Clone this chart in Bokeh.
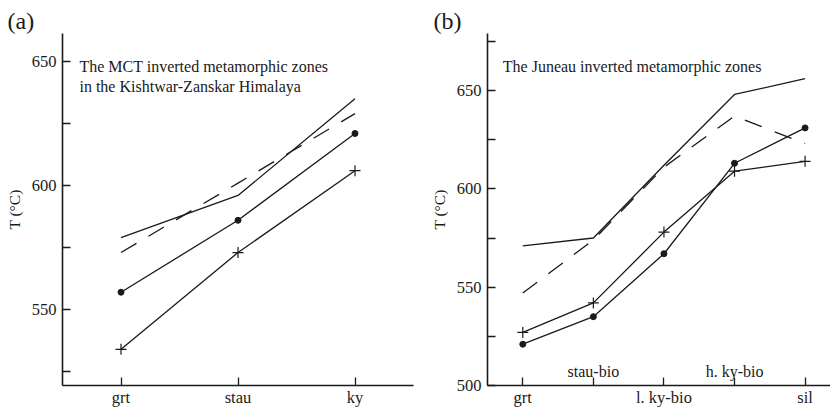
from bokeh.plotting import figure
from bokeh.layouts import row
from bokeh.models import FixedTicker, Label, Range1d, Title
from bokeh.core.properties import value
from bokeh.embed import file_html
from bokeh.resources import INLINE

# ---- data ----
zones_a = ["grt", "stau", "ky"]
a_solid = [579, 596, 635]
a_dashed = [573, 601, 629]
a_dot = [557, 586, 621]
a_plus = [534, 573, 606]

zones_b = ["grt", "stau-bio", "l. ky-bio", "h. ky-bio", "sil"]
b_solid = [571, 575, 612, 648, 656]
b_dashed = [547, 574, 611, 637, 623]
b_dot = [521, 535, 567, 613, 631]
b_plus = [527, 542, 578, 609, 614]

yticks_a = [525, 550, 575, 600, 625, 650]
ylabels_a = {525: "", 550: "550", 575: "", 600: "600", 625: "", 650: "650"}
yticks_b = [500, 525, 550, 575, 600, 625, 650, 675]
ylabels_b = {500: "500", 525: "", 550: "550", 575: "", 600: "600", 625: "", 650: "650", 675: ""}

FONT = "Liberation Serif"
INK = "#1a1a1a"


def style(p, xticks, xlabels, yticks, ylabels):
    p.background_fill_color = "white"
    p.border_fill_color = "white"
    p.outline_line_color = None
    p.xgrid.grid_line_color = None
    p.ygrid.grid_line_color = None
    for ax in (p.xaxis[0], p.yaxis[0]):
        ax.axis_line_color = INK
        ax.axis_line_width = 1.6
        ax.major_tick_line_color = INK
        ax.major_tick_line_width = 1.3
        ax.major_tick_out = 0
        ax.major_tick_in = 8
        ax.minor_tick_line_color = None
        ax.major_label_text_font = FONT
        ax.major_label_text_font_size = "16.5px"
        ax.major_label_text_color = INK
        ax.axis_label_text_font = FONT
        ax.axis_label_text_font_size = "15.5px"
        ax.axis_label_text_font_style = "normal"
        ax.axis_label_text_color = INK
    p.xaxis[0].ticker = FixedTicker(ticks=xticks)
    p.xaxis[0].major_label_overrides = xlabels
    p.xaxis[0].major_label_standoff = 2
    p.yaxis[0].ticker = FixedTicker(ticks=yticks)
    p.yaxis[0].major_label_overrides = ylabels
    p.yaxis[0].major_label_standoff = 6
    p.yaxis[0].axis_label = "T (°C)"
    p.yaxis[0].axis_label_standoff = 6


def draw(p, xs, solid, dashed, dot, plus):
    p.line(xs, solid, line_color=INK, line_width=1.3)
    p.line(xs, dashed, line_color=INK, line_width=1.3, line_dash="18 14")
    p.line(xs, dot, line_color=INK, line_width=1.3)
    p.scatter(xs, dot, marker="circle", size=6, fill_color=INK, line_color=INK)
    p.line(xs, plus, line_color=INK, line_width=1.3)
    p.scatter(xs, plus, marker="cross", size=11, fill_color=None, line_color=INK, line_width=1.2)


def panel_tag(p, text, offset):
    p.add_layout(Title(text=text, align="left", offset=offset, standoff=0,
                       text_font=FONT, text_font_size="24px", text_font_style="normal",
                       text_color=INK), "above")


# ---- panel (a) ----
xa = list(range(1, len(zones_a) + 1))
pa = figure(width=415, height=409, output_backend="svg", toolbar_location=None,
            x_range=Range1d(0.5, 3.5), y_range=Range1d(519.4, 661.3),
            min_border_left=62, min_border_right=2, min_border_top=33, min_border_bottom=24)
style(pa, xa, {x: z for x, z in zip(xa, zones_a)}, yticks_a, ylabels_a)
draw(pa, xa, a_solid, a_dashed, a_dot, a_plus)
panel_tag(pa, "(a)", -55)
pa.add_layout(Label(x=0.645, y=648.0, text="The MCT inverted metamorphic zones", text_font=FONT,
                    text_font_size="16px", text_color=INK, text_baseline="alphabetic"))
pa.add_layout(Label(x=0.645, y=639.9, text="in the Kishtwar-Zanskar Himalaya", text_font=FONT,
                    text_font_size="16px", text_color=INK, text_baseline="alphabetic"))

# ---- panel (b) ----
xb = list(range(1, len(zones_b) + 1))
below_b = {x: (z if i % 2 == 0 else "") for i, (x, z) in enumerate(zip(xb, zones_b))}
pb = figure(width=415, height=409, output_backend="svg", toolbar_location=None,
            x_range=Range1d(0.5, 5.36), y_range=Range1d(500, 679),
            min_border_left=72, min_border_right=0, min_border_top=33, min_border_bottom=24)
style(pb, xb, below_b, yticks_b, ylabels_b)
draw(pb, xb, b_solid, b_dashed, b_dot, b_plus)
inner_x = [x for i, x in enumerate(xb) if i % 2 == 1]
inner_t = [z for i, z in enumerate(zones_b) if i % 2 == 1]
pb.text(x=inner_x, y=[500] * len(inner_x), text=inner_t, text_font=value(FONT), text_font_size="16px",
        text_color=INK, text_align="center", text_baseline="alphabetic", y_offset=-14)
panel_tag(pb, "(b)", -54)
pb.add_layout(Label(x=0.717, y=662.4, text="The Juneau inverted metamorphic zones", text_font=FONT,
                    text_font_size="16px", text_color=INK, text_baseline="alphabetic"))

layout = row(pa, pb)
open("out.html", "w").write(file_html(layout, INLINE))
